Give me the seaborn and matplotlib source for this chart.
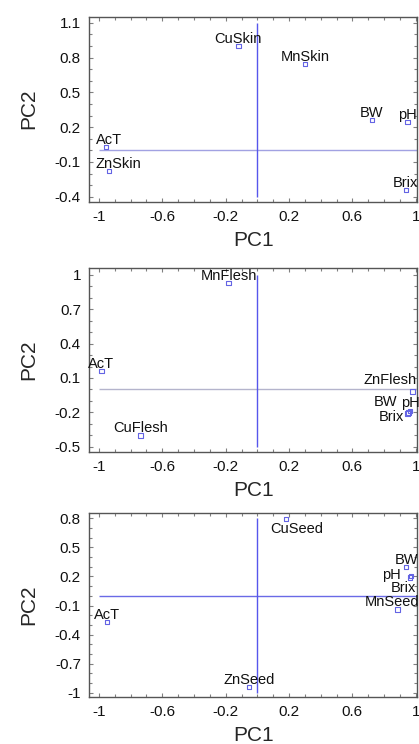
import pandas as pd
import matplotlib
matplotlib.use("Agg")
import matplotlib.pyplot as plt
from matplotlib.ticker import MultipleLocator
import seaborn as sns

# -----------------------------
# Data (loadings)
# -----------------------------
skin_vars = ["CuSkin", "MnSkin", "BW", "pH", "AcT", "ZnSkin", "Brix"]
skin_pc1 = [-0.120, 0.301, 0.723, 0.948, -0.956, -0.935, 0.937]
skin_pc2 = [0.897, 0.744, 0.261, 0.244, 0.028, -0.178, -0.342]

flesh_vars = ["MnFlesh", "AcT", "ZnFlesh", "pH", "BW", "Brix", "CuFlesh"]
flesh_pc1 = [-0.181, -0.985, 0.979, 0.965, 0.955, 0.948, -0.737]
flesh_pc2 = [0.927, 0.161, -0.017, -0.186, -0.200, -0.210, -0.401]

seed_vars = ["CuSeed", "BW", "pH", "Brix", "MnSeed", "AcT", "ZnSeed"]
seed_pc1 = [0.181, 0.939, 0.962, 0.972, 0.884, -0.948, -0.051]
seed_pc2 = [0.793, 0.300, 0.190, 0.205, -0.139, -0.267, -0.938]

x_ticks = [-1, -0.6, -0.2, 0.2, 0.6, 1]
skin_yticks = [-0.4, -0.1, 0.2, 0.5, 0.8, 1.1]
flesh_yticks = [-0.5, -0.2, 0.1, 0.4, 0.7, 1.0]
seed_yticks = [-1.0, -0.7, -0.4, -0.1, 0.2, 0.5, 0.8]

# -----------------------------
# Style
# -----------------------------
sns.set_theme(style="ticks")
plt.rcParams["font.family"] = ["Liberation Sans", "DejaVu Sans"]

MARK = "#6464e4"
VLINE = "#5656ec"
XLIM = (-1.061, 1.008)

# label offsets in pixels (default: centred just above the marker)
skin_offsets = {"ZnSkin": (9, 3), "AcT": (3, 3)}
flesh_offsets = {"ZnFlesh": (-22, 7), "BW": (-23, 6), "pH": (0, 4), "Brix": (-16, -8)}
seed_offsets = {"CuSeed": (11, -14), "pH": (-18, -2), "Brix": (-8, -16), "MnSeed": (-5, 3)}


def draw_panel(ax, names, pc1, pc2, yticks, ylim, hcolor, offsets):
    df = pd.DataFrame({"var": names, "PC1": pc1, "PC2": pc2})
    ax.hlines(0, x_ticks[0], XLIM[1], color=hcolor, lw=1, zorder=1)
    ax.vlines(0, yticks[0], yticks[-1], color=VLINE, lw=1, zorder=1)
    sns.scatterplot(data=df, x="PC1", y="PC2", ax=ax, marker="s", s=10,
                    facecolor="none", edgecolor=MARK, linewidth=0.8, zorder=3)
    for _, r in df.iterrows():
        dx, dy = offsets.get(r["var"], (0, 3))
        ax.annotate(r["var"], (r["PC1"], r["PC2"]), xytext=(dx, dy),
                    textcoords="offset pixels", ha="center", va="baseline",
                    fontsize=10.5, color="#111111", annotation_clip=False)
    ax.set_xlim(*XLIM)
    ax.set_ylim(*ylim)
    ax.set_xticks(x_ticks)
    ax.set_xticklabels([f"{v:g}" for v in x_ticks])
    ax.set_yticks(yticks)
    ax.set_yticklabels([f"{v:g}" for v in yticks])
    ax.xaxis.set_minor_locator(MultipleLocator(0.1))
    ax.yaxis.set_minor_locator(MultipleLocator(0.1))
    ax.tick_params(which="both", direction="in", top=True, right=True,
                   color="#808080", labelsize=11, labelcolor="#111111", pad=6)
    ax.tick_params(which="major", length=3, width=0.8)
    ax.tick_params(which="minor", length=2, width=0.8)
    for sp in ax.spines.values():
        sp.set_color("#555555")
        sp.set_linewidth(1)
    ax.set_xlabel("PC1", fontsize=15, labelpad=5)
    ax.set_ylabel("PC2", fontsize=15, labelpad=12)


fig = plt.figure(figsize=(4.19, 7.44), dpi=100)
W, H = 419, 744


def add_axes(top, bottom, left=89.3, right=417):
    return fig.add_axes([left / W, 1 - bottom / H, (right - left) / W, (bottom - top) / H])


ax1 = add_axes(16.7, 201.7)
ax2 = add_axes(268.3, 451.7)
ax3 = add_axes(513.3, 696.7)

draw_panel(ax1, skin_vars, skin_pc1, skin_pc2, skin_yticks, (-0.443, 1.152), "#a2a2e2", skin_offsets)
draw_panel(ax2, flesh_vars, flesh_pc1, flesh_pc2, flesh_yticks, (-0.544, 1.058), "#b4b4cc", flesh_offsets)
draw_panel(ax3, seed_vars, seed_pc1, seed_pc2, seed_yticks, (-1.041, 0.852), "#6a6ae6", seed_offsets)

fig.savefig("out.png", dpi=100)
